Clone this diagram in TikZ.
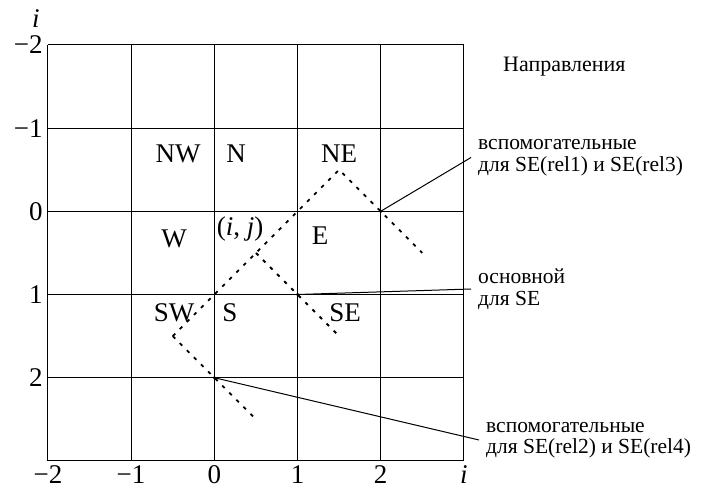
\documentclass[tikz,border=0pt]{standalone}
\usepackage{fontspec}
\setmainfont{Liberation Serif}
\begin{document}
\begin{tikzpicture}[x=1pt,y=-1pt,
  gridline/.style={line width=1.1pt},
  dotline/.style={line width=1.8pt, dash pattern=on 3.5pt off 6.5pt},
  callout/.style={line width=1pt},
  cell/.style={font=\fontsize{27}{28}\selectfont, inner sep=0pt},
  axis/.style={font=\fontsize{27}{28}\selectfont, inner sep=0pt, text depth=0pt},
  note/.style={font=\fontsize{21.5}{21.5}\selectfont, align=left, anchor=west, inner sep=7pt},
  pt/.style={circle, fill, inner sep=0pt, minimum size=3.5pt}]
\useasboundingbox (0,0) rectangle (704,486);
\fill[white] (0,0) rectangle (704,486);
\begin{scope}[shift={(214.3,211.3)}, x=83.2pt, y=-83.2pt]
  \foreach \k in {-2,...,3} {
    \draw[gridline] (\k,-2) -- (\k,3);
    \draw[gridline] (-2,\k) -- (3,\k);
  }
  % dotted lines
  \draw[dotline] (-0.5,1.5) -- (1.5,-0.5) -- (2.5,0.5);
  \draw[dotline] (0.5,0.5) -- (1.5,1.5);
  \draw[dotline] (-0.5,1.5) -- (0.5,2.5);
  % points
  \node[pt] (d1) at (2,0) {};
  \node[pt] (d2) at (1,1) {};
  \node[pt] (d3) at (0,2) {};
  % y axis labels
  \node[axis, anchor=east] (ym2) at (-2.06,-2) {−2};
  \node[axis, anchor=east] (ym1) at (-2.06,-1) {−1};
  \node[axis, anchor=east] (y0) at (-2.06,0) {0};
  \node[axis, anchor=east] (y1) at (-2.06,1) {1};
  \node[axis, anchor=east] (y2) at (-2.06,2) {2};
  % x axis labels
  \node[axis] (xm2) at (-2,3.16) {−2};
  \node[axis] (xm1) at (-1,3.16) {−1};
  \node[axis] (x0) at (0,3.16) {0};
  \node[axis] (x1) at (1,3.16) {1};
  \node[axis] (x2) at (2,3.16) {2};
  \node[axis] (xi) at (3,3.16) {\textit{i}};
\end{scope}
\node[axis] (yi) at (36,19) {\textit{i}};
% cell labels
\node[cell] (nw) at (178,154) {NW};
\node[cell] (n) at (236,154) {N};
\node[cell] (ne) at (339,154) {NE};
\node[cell] (w) at (174,239) {W};
\node[cell] (ij) at (240,229) {(\textit{i}, \textit{j})};
\node[cell] (e) at (320,236) {E};
\node[cell] (sw) at (174,313) {SW};
\node[cell] (s) at (230,313) {S};
\node[cell] (se) at (345,313) {SE};
% title
\node[font=\fontsize{22}{22}\selectfont, anchor=west, inner sep=0pt] (title) at (503,67) {Направления};
% notes
\node[note] (c1) at (471,157.5) {вспомогательные\\для SE(rel1) и SE(rel3)};
\node[note] (c2) at (471,289) {основной\\для SE};
\node[note] (c3) at (479,440) {вспомогательные\\для SE(rel2) и SE(rel4)};
\draw[callout] (d1.center) -- (c1.west);
\draw[callout] (d2.center) -- (c2.west);
\draw[callout] (d3.center) -- (c3.west);
\end{tikzpicture}
\end{document}
